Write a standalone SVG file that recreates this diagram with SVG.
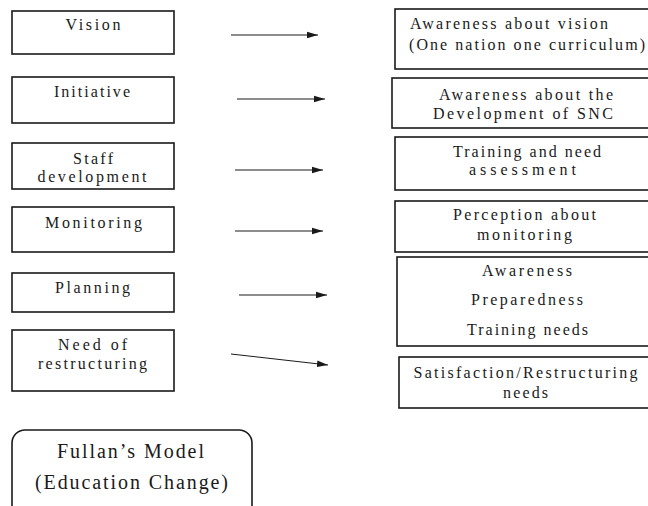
<svg xmlns="http://www.w3.org/2000/svg" width="648" height="506" viewBox="0 0 648 506">
<style>
  .box{fill:#fff;stroke:#1a1a1a;stroke-width:1.6}
  .t{font-family:"Liberation Serif","Times New Roman",serif;font-size:16px;fill:#1a1a1a;text-anchor:middle}
  .ts{font-family:"Liberation Serif","Times New Roman",serif;font-size:16px;fill:#1a1a1a;text-anchor:start}
  .tb{font-family:"Liberation Serif","Times New Roman",serif;font-size:20px;fill:#1a1a1a;text-anchor:middle}
  .c{stroke:#1a1a1a;stroke-width:1;fill:none}
</style>
<defs>
  <marker id="ah" markerUnits="userSpaceOnUse" markerWidth="12" markerHeight="8" refX="11" refY="4" orient="auto">
    <path d="M0,0.8 L11,4 L0,7.2 Z" fill="#1a1a1a"/>
  </marker>
</defs>
<rect width="648" height="506" fill="#fff"/>

<g id="vision">
  <rect class="box" x="12" y="11" width="162" height="43"/>
  <text class="t" x="93" y="30" textLength="55" lengthAdjust="spacing">Vision</text>
</g>
<g id="initiative">
  <rect class="box" x="12" y="77" width="162" height="46"/>
  <text class="t" x="92" y="97" textLength="76" lengthAdjust="spacing">Initiative</text>
</g>
<g id="staff">
  <rect class="box" x="12" y="143" width="162" height="46"/>
  <text class="t" x="93" y="164" textLength="40" lengthAdjust="spacing">Staff</text>
  <text class="t" x="92" y="181.5" textLength="109" lengthAdjust="spacing">development</text>
</g>
<g id="monitoring">
  <rect class="box" x="12" y="207" width="162" height="45"/>
  <text class="t" x="93.5" y="227.5" textLength="97" lengthAdjust="spacing">Monitoring</text>
</g>
<g id="planning">
  <rect class="box" x="12" y="273" width="162" height="39"/>
  <text class="t" x="92.5" y="292.5" textLength="75" lengthAdjust="spacing">Planning</text>
</g>
<g id="need">
  <rect class="box" x="12" y="330" width="162" height="61"/>
  <text class="t" x="92.5" y="350" textLength="69" lengthAdjust="spacing">Need of</text>
  <text class="t" x="92.5" y="369" textLength="109" lengthAdjust="spacing">restructuring</text>
</g>

<g id="r-vision">
  <rect class="box" x="395" y="9" width="260" height="60"/>
  <text class="ts" x="410" y="28.5" textLength="198" lengthAdjust="spacing">Awareness about vision</text>
  <text class="ts" x="409" y="50" textLength="236" lengthAdjust="spacing">(One nation one curriculum)</text>
</g>
<g id="r-initiative">
  <rect class="box" x="392" y="78" width="263" height="50"/>
  <text class="t" x="526" y="100" textLength="174" lengthAdjust="spacing">Awareness about the</text>
  <text class="t" x="523" y="118.5" textLength="180" lengthAdjust="spacing">Development of SNC</text>
</g>
<g id="r-staff">
  <rect class="box" x="395" y="137" width="260" height="53"/>
  <text class="t" x="527" y="156.5" textLength="148" lengthAdjust="spacing">Training and need</text>
  <text class="t" x="522.5" y="175" textLength="107" lengthAdjust="spacing">assessment</text>
</g>
<g id="r-monitoring">
  <rect class="box" x="395" y="201" width="260" height="51"/>
  <text class="t" x="524.5" y="220" textLength="143" lengthAdjust="spacing">Perception about</text>
  <text class="t" x="524.5" y="239.5" textLength="95" lengthAdjust="spacing">monitoring</text>
</g>
<g id="r-planning">
  <rect class="box" x="397" y="257" width="258" height="89"/>
  <text class="t" x="527" y="275.5" textLength="90" lengthAdjust="spacing">Awareness</text>
  <text class="t" x="527" y="305" textLength="112" lengthAdjust="spacing">Preparedness</text>
  <text class="t" x="527.5" y="335" textLength="121" lengthAdjust="spacing">Training needs</text>
</g>
<g id="r-need">
  <rect class="box" x="399" y="357" width="256" height="51"/>
  <text class="t" x="525.5" y="377.5" textLength="224" lengthAdjust="spacing">Satisfaction/Restructuring</text>
  <text class="t" x="525.5" y="398" textLength="45" lengthAdjust="spacing">needs</text>
</g>

<g id="fullan">
  <rect class="box" x="12" y="430" width="240" height="92" rx="13" ry="13"/>
  <text class="tb" x="130.5" y="458" textLength="147" lengthAdjust="spacing">Fullan’s Model</text>
  <text class="tb" x="131.5" y="489" textLength="193" lengthAdjust="spacing">(Education Change)</text>
</g>

<g id="connectors">
  <line class="c" x1="231" y1="35" x2="318" y2="35" marker-end="url(#ah)"/>
  <line class="c" x1="237" y1="99" x2="325" y2="99" marker-end="url(#ah)"/>
  <line class="c" x1="235" y1="170" x2="323" y2="170" marker-end="url(#ah)"/>
  <line class="c" x1="235" y1="231" x2="323" y2="231" marker-end="url(#ah)"/>
  <line class="c" x1="239" y1="295" x2="327" y2="295" marker-end="url(#ah)"/>
  <line class="c" x1="231" y1="354" x2="328" y2="365" marker-end="url(#ah)"/>
</g>
</svg>
